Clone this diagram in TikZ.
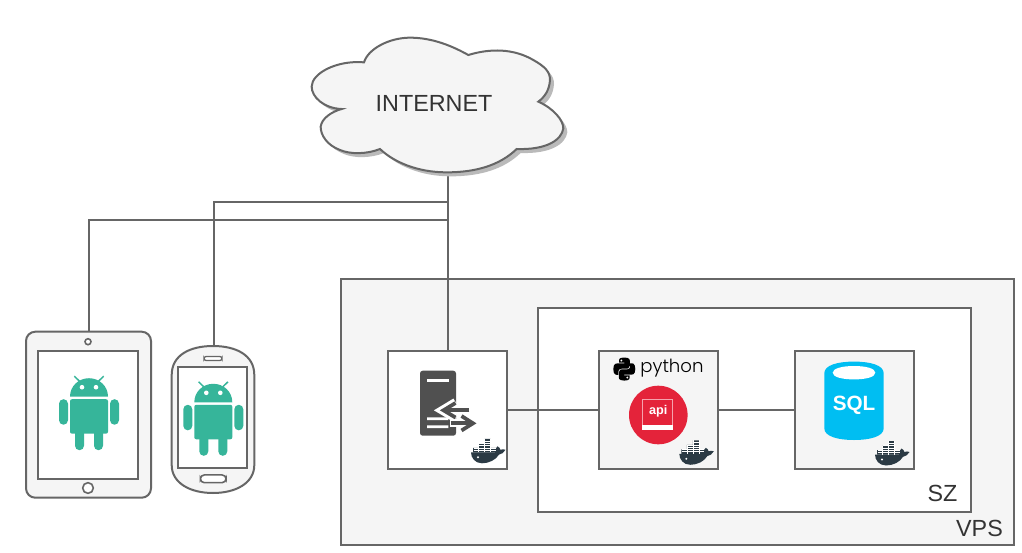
\documentclass[tikz,border=0pt]{standalone}
\usepackage{fontspec}
\setmainfont{Liberation Sans}
\newfontfamily\pylabel{Poppins Light}
\definecolor{edgegray}{HTML}{666666}
\definecolor{panel}{HTML}{F5F5F5}
\definecolor{droid}{HTML}{36B59A}
\definecolor{whale}{HTML}{2B3A44}
\definecolor{apired}{HTML}{E4233A}
\definecolor{apipink}{HTML}{F5A3AE}
\definecolor{sqlblue}{HTML}{00BEF2}
\definecolor{srv}{HTML}{505050}
\definecolor{textgray}{HTML}{333333}
\newcommand{\androidicon}[2]{%
  \begin{scope}[shift={(#1,#2)}]
    \fill[droid] (-19,-1) .. controls (-19,-11.5) and (-10.5,-19.5) .. (0,-19.5) .. controls (10.5,-19.5) and (19,-11.5) .. (19,-1) -- cycle;
    \draw[droid,line width=1.1pt] (-14.7,-21.5) -- (-9.5,-16.5) (14.7,-21.5) -- (9.5,-16.5);
    \fill[white] (-7,-10.5) circle[radius=2.3] (7,-10.5) circle[radius=2.3];
    \fill[droid,rounded corners=1.5pt] (-19,1.5) -- (19,1.5) -- (19,36) -- (-19,36) -- cycle;
    \fill[droid,rounded corners=3.35pt] (-30,1.5) rectangle (-21,27);
    \fill[droid,rounded corners=3.35pt] (21,1.5) rectangle (30,27);
    \fill[droid,rounded corners=3.35pt] (-14,30) rectangle (-5,52.5);
    \fill[droid,rounded corners=3.35pt] (5,30) rectangle (14,52.5);
  \end{scope}}
\newcommand{\whaleicon}[2]{%
  \begin{scope}[shift={(#1,#2)}]
    \fill[whale] (0,13.5) -- (24,13.5) .. controls (24,11) and (25,8.5) .. (26.5,7.5) .. controls (28.5,8.5) and (29,9.5) .. (29.3,11) .. controls (31,10.3) and (33,10.3) .. (34.5,11) .. controls (33,14) and (30.5,15.3) .. (28,15.8) .. controls (25,21) and (18,24.5) .. (11,24.5) .. controls (4,24.5) and (0,19) .. (0,13.5) -- cycle;
    \fill[white] (7,18.5) circle[radius=1.1];
    \fill[whale] (2,9) rectangle (25,13.6) (7.5,4.5) rectangle (19.7,9.2) (13.5,0) rectangle (19.7,4.7);
    \draw[white,line width=.4pt] (2.5,9) -- (25,9) (7.5,4.6) -- (19.7,4.6) (7.5,4.6) -- (7.5,13.5) (13.5,0) -- (13.5,13.5) (19.5,0) -- (19.5,13.5) (2.5,11.3) -- (24.5,11.3) (7.5,6.8) -- (19.5,6.8) (13.5,2.3) -- (19.5,2.3);
  \end{scope}}
\newcommand{\pysnake}{%
  \fill (54.9,0) .. controls (27,0) and (28.7,12.1) .. (28.7,12.1) -- (28.8,24.6) -- (55.4,24.6) -- (55.4,28.4) -- (18.2,28.4) .. controls (18.2,28.4) and (0,26.3) .. (0,55) .. controls (0,83.7) and (15.9,82.7) .. (15.9,82.7) -- (25.4,82.7) -- (25.4,69.4) .. controls (25.4,69.4) and (24.9,53.5) .. (41,53.5) -- (67.7,53.5) .. controls (67.7,53.5) and (82.7,53.7) .. (82.7,39) -- (82.7,14.7) .. controls (82.7,14.7) and (85,0) .. (54.9,0) -- cycle;
  \fill[white] (40,14.5) circle[radius=5];}
\tikzset{
  x=.75pt,y=-.75pt,
  wire/.style={edgegray,line width=1.5pt},
  unitbox/.style={draw=edgegray,line width=1.5pt,rectangle,inner sep=0pt,outer sep=0pt,minimum width=89.25pt,minimum height=88.5pt},
  devbox/.style={draw=edgegray,line width=1.5pt,rectangle,inner sep=0pt,outer sep=0pt},
  bigtext/.style={text=textgray,font=\fontsize{17.5pt}{20pt}\selectfont,inner sep=0pt}
}
\begin{document}
\begin{tikzpicture}
\useasboundingbox (0,0) rectangle (1022,553);
\fill[white] (0,0) rectangle (1022,553);
% zones
\node[devbox,fill=panel,minimum width=504.75pt,minimum height=199.5pt] (vps) at (677.5,412) {};
\node[devbox,fill=white,minimum width=324.75pt,minimum height=153pt] (sz) at (754.5,410) {};
\node[bigtext] (vpslabel) at (979.5,528) {VPS};
\node[bigtext] (szlabel) at (942.5,493) {SZ};
% unit boxes
\node[unitbox,fill=white] (server) at (447.7,410) {};
\node[unitbox,fill=panel] (api) at (658.5,410) {};
\node[unitbox,fill=panel] (sql) at (854.5,410) {};
% devices
\node[devbox,fill=panel,rounded corners=7pt,minimum width=93.75pt,minimum height=124.5pt] (tablet) at (88.5,414.7) {};
\node[devbox,fill=white,minimum width=75.5pt,minimum height=96pt] (tabscreen) at (88,415) {};
\node[draw=edgegray,line width=1.2pt,circle,fill=white,minimum size=4.5pt,inner sep=0pt] (tabcam) at (88,341.7) {};
\node[draw=edgegray,line width=1.2pt,circle,fill=white,minimum size=8pt,inner sep=0pt] (tabhome) at (88,488) {};
\androidicon{89}{397.7}
\draw[edgegray,line width=1.5pt,fill=panel] (171.7,375) .. controls (171.7,355) and (190,346) .. (213,346) .. controls (236,346) and (254.3,355) .. (254.3,375) -- (254.3,465) .. controls (254.3,483) and (236,493) .. (213,493) .. controls (190,493) and (171.7,483) .. (171.7,465) -- cycle;
\coordinate (phonetop) at (214,346);
\node[devbox,fill=white,minimum width=51.75pt,minimum height=75.75pt] (phonescreen) at (212.8,417.8) {};
\node[draw=edgegray,line width=1pt,fill=white,rounded corners=1.6pt,minimum width=13.5pt,minimum height=3pt,inner sep=0pt] (speaker) at (213,358.5) {};
\node[draw=edgegray,line width=1.2pt,fill=white,rounded corners=3pt,minimum width=19.3pt,minimum height=5.8pt,inner sep=0pt] (phonehome) at (213.2,478.8) {};
\androidicon{213.3}{403.3}
% connectors
\coordinate (cloudbot) at (447.7,172);
\coordinate (junctionA) at (447.7,202);
\coordinate (junctionB) at (447.7,220);
\draw[wire] (cloudbot) -- (server.north);
\draw[wire] (phonetop) |- (junctionA);
\draw[wire] (tablet.north) |- (junctionB);
\draw[wire] (server.east) -- (api.west);
\draw[wire] (api.east) -- (sql.west);
% cloud
\begin{scope}[shift={(300,25)},x=.25pt,y=-.25pt]
  \def\cloudpath{(192,112) .. controls (205,70) and (270,38) .. (330,38) .. controls (400,38) and (460,65) .. (505,90) .. controls (570,70) and (640,70) .. (700,105) .. controls (735,125) and (750,140) .. (750,165) .. controls (748,195) and (735,215) .. (715,230) .. controls (760,250) and (790,285) .. (790,310) .. controls (785,345) and (740,375) .. (650,372) .. controls (600,420) and (530,442) .. (440,442) .. controls (350,442) and (280,410) .. (240,372) .. controls (200,388) and (150,388) .. (120,375) .. controls (80,360) and (62,330) .. (62,305) .. controls (65,280) and (95,260) .. (125,252) .. controls (70,250) and (35,215) .. (35,185) .. controls (35,145) and (110,105) .. (192,112) -- cycle}
  \fill[black!27,shift={(12,12)}] \cloudpath;
  \draw[edgegray,line width=1.5pt,fill=panel] \cloudpath;
\end{scope}
\node[bigtext] (cloud) at (434,103) {INTERNET};
% server icon
\fill[srv,rounded corners=2pt] (420,370.7) rectangle (456,435.7);
\fill[white] (427,379.3) rectangle (449.3,382);
\fill[white] (427,417.3) rectangle (448.3,420) (427,425.3) rectangle (448.3,428);
\draw[white,line width=6pt] (470,410.3) -- (444,410.3);
\draw[white,line width=6pt,line join=miter] (455.5,402) -- (441.7,410.3) -- (455.5,418.5);
\draw[white,line width=6pt] (450,423.3) -- (472,423.3);
\draw[white,line width=6pt,line join=miter] (461,415) -- (474,423.3) -- (461,431.5);
\draw[srv,line width=2.8pt] (469.3,410.3) -- (444,410.3);
\draw[srv,line width=2.8pt] (455.5,403) -- (443.5,410.3) -- (455.5,417.5);
\draw[srv,line width=2.8pt] (450.7,423.3) -- (471,423.3);
\draw[srv,line width=2.8pt] (461.5,416) -- (473,423.3) -- (461.5,430.5);
% python / api icon
\begin{scope}[shift={(613.3,357.5)},x=.15pt,y=-.157pt]
  \pysnake
\end{scope}
\begin{scope}[shift={(635.3,380.6)},x=-.15pt,y=.157pt]
  \pysnake
\end{scope}
\node[inner sep=0pt,text=black,font=\pylabel\fontsize{13.6pt}{16pt}\selectfont] (pylogo) at (672,368) {python};
\fill[apired] (658.3,415) circle[radius=29.3];
\draw[apipink,line width=1pt] (642.8,399.8) rectangle (672.8,429.5);
\fill[white] (642.3,425) rectangle (673.3,430);
\node[inner sep=0pt,text=white,font=\bfseries\fontsize{9.5pt}{10pt}\selectfont] (apilabel) at (658.3,411.5) {api};
% sql icon
\fill[sqlblue] (824.3,373.3) .. controls (824.3,365) and (838,361.6) .. (854,361.6) .. controls (870,361.6) and (883.7,365) .. (883.7,373.3) -- (883.7,428.3) .. controls (883.7,436.5) and (870,440) .. (854,440) .. controls (838,440) and (824.3,436.5) .. (824.3,428.3) -- cycle;
\fill[white] (832.7,372.7) .. controls (832.7,368.5) and (842,366) .. (854,366) .. controls (866,366) and (875.3,368.5) .. (875.3,372.7) .. controls (875.3,377) and (866,379.4) .. (854,379.4) .. controls (842,379.4) and (832.7,377) .. (832.7,372.7) -- cycle;
\node[inner sep=0pt,text=white,font=\bfseries\fontsize{15.5pt}{18pt}\selectfont] (sqllabel) at (854,405) {SQL};
% docker marks
\whaleicon{471}{438.8}
\whaleicon{679.3}{440.3}
\whaleicon{875}{441}
\end{tikzpicture}
\end{document}
